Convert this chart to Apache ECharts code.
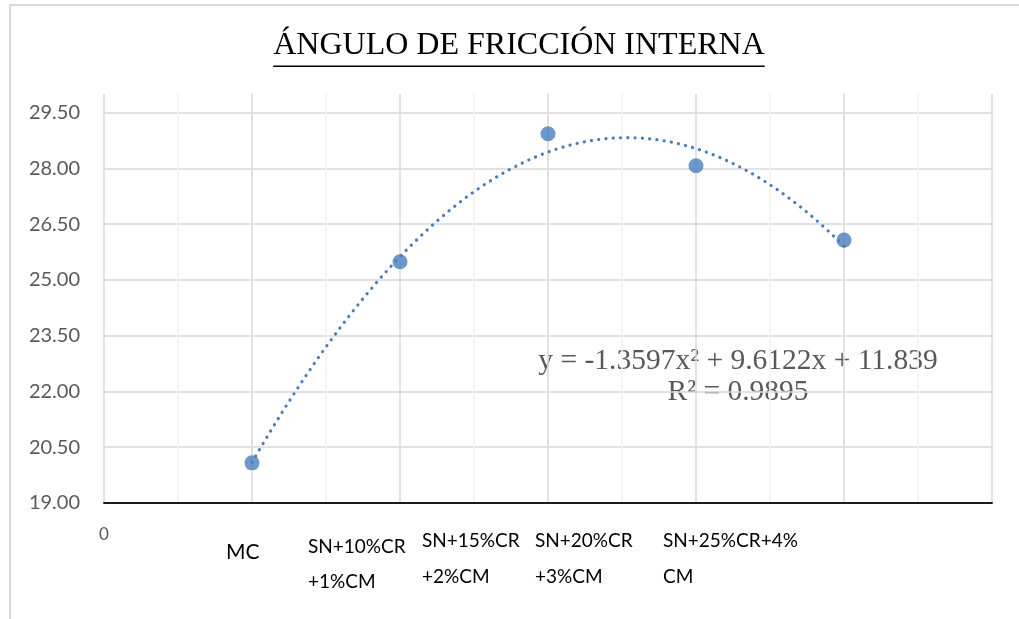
<!DOCTYPE html>
<html>
<head>
<meta charset="utf-8">
<script src="https://cdn.jsdelivr.net/npm/echarts@6/dist/echarts.min.js"></script>
<style>
  html, body { margin: 0; padding: 0; background: #ffffff; overflow: hidden; }
  #chart { width: 1019px; height: 619px; overflow: hidden; }
</style>
</head>
<body>
<div id="chart"></div>
<script>
// Mixes tested, in order along the x axis (x = 1 … 5)
const categories = ['MC', 'SN+10%CR\n+1%CM', 'SN+15%CR\n+2%CM', 'SN+20%CR\n+3%CM', 'SN+25%CR+4%\nCM'];
// Internal friction angle per mix
const frictionAngle = [20.08, 25.49, 28.93, 28.07, 26.07];
// Polynomial trend y = a·x² + b·x + c, as printed on the chart
const trendCoeffs = [-1.3597, 9.6122, 11.839];
const trendR2 = 0.9895;
// Y axis tick range
const yAxisMin = 19.0;
const yAxisMax = 30.0;
const yAxisStep = 1.5;

const titleText = 'ÁNGULO DE FRICCIÓN INTERNA';
const equationText = 'y = ' + trendCoeffs[0] + 'x² + ' + trendCoeffs[1] + 'x + ' + trendCoeffs[2];
const r2Text = 'R² = ' + trendR2;

const markerColor = '#4a7ebb';
const serif = '"Liberation Serif", "Times New Roman", serif';
const sans = 'Lato, "Open Sans", sans-serif';

// Rich-text layout for the category labels (box widths shift the left-aligned text)
const labelBoxWidth = [52, 184, 252, 322, 362];

const points = frictionAngle.map((v, i) => [i + 1, v]);

// Trend curve evaluated from the printed coefficients over the data span
const trendPoints = [];
for (let k = 0; k <= 80; k++) {
  const x = 1 + k * 0.05;
  trendPoints.push([x, trendCoeffs[0] * x * x + trendCoeffs[1] * x + trendCoeffs[2]]);
}

const rich = {
  zero: { fontSize: 17, color: '#595959', lineHeight: 24, fontFamily: sans }
};
categories.forEach((c, i) => {
  const lines = c.split('\n');
  lines.forEach((_, j) => {
    let lh = 36;
    if (i === 0) lh = 58;
    if (i === 1) lh = j === 0 ? 48 : 22;
    rich['c' + i + '_' + j] = {
      fontSize: i === 0 ? 21 : 19, color: '#000000', fontFamily: sans,
      align: 'left', width: labelBoxWidth[i], lineHeight: lh
    };
  });
});

function xLabel(v) {
  if (Math.abs(v) < 1e-9) return '{zero|0}';
  const idx = Math.round(v) - 1;
  if (Math.abs(v - Math.round(v)) > 1e-9 || idx < 0 || idx >= categories.length) return '';
  return categories[idx].split('\n').map((t, j) => '{c' + idx + '_' + j + '|' + t + '}').join('\n');
}

// Measure the title so the underline matches its width
const titleFont = '32px ' + serif;
const measureCtx = document.createElement('canvas').getContext('2d');
measureCtx.font = titleFont;
const titleWidth = measureCtx.measureText(titleText).width;
const titleLeft = 519 - titleWidth / 2;

const chart = echarts.init(document.getElementById('chart'), null, { renderer: 'canvas', width: 1019, height: 619 });
chart.setOption({
  backgroundColor: '#ffffff',
  animation: false,
  grid: { left: 104, right: 27, top: 94, bottom: 116, outerBoundsMode: 'none', containLabel: false },
  xAxis: {
    type: 'value', min: 0, max: 6, interval: 0.5,
    axisLine: { show: true, onZero: false, lineStyle: { color: '#1a1a1a', width: 2 } },
    axisTick: { show: false },
    splitLine: { show: true, lineStyle: { color: ['#d9d9d9', '#f2f2f2'], width: 1.5 } },
    axisLabel: { show: true, margin: 20, verticalAlign: 'top', formatter: xLabel, rich: rich }
  },
  yAxis: {
    type: 'value', min: yAxisMin, max: yAxisMax, interval: yAxisStep,
    axisLine: { show: false },
    axisTick: { show: false },
    splitLine: { show: true, showMaxLine: false, lineStyle: { color: '#d9d9d9', width: 1.5 } },
    axisLabel: {
      margin: 24, color: '#595959', fontSize: 20, fontFamily: sans,
      showMaxLabel: false,
      formatter: v => v.toFixed(2)
    }
  },
  series: [
    {
      type: 'line', data: trendPoints, showSymbol: false, smooth: false,
      lineStyle: { color: markerColor, width: 3.2, type: [0.1, 7.2], cap: 'round' },
      z: 2, silent: true
    },
    {
      type: 'scatter', data: points, symbol: 'circle', symbolSize: 15,
      itemStyle: { color: markerColor }, z: 3
    }
  ],
  graphic: [
    {
      type: 'rect', left: 9, top: 4, z: -10, silent: true,
      shape: { width: 1030, height: 640 },
      style: { fill: 'transparent', stroke: '#d9d9d9', lineWidth: 2 }
    },
    {
      type: 'text', x: titleLeft, y: 62, silent: true,
      style: { text: titleText, font: titleFont, fill: '#000000', textAlign: 'left', textVerticalAlign: 'bottom' }
    },
    {
      type: 'rect', x: titleLeft, y: 65.5, silent: true,
      shape: { width: titleWidth, height: 1.6 },
      style: { fill: '#000000' }
    },
    {
      type: 'text', x: 738, y: 361, silent: true,
      style: { text: equationText, font: '29.5px ' + serif, fill: '#595959', textAlign: 'center', textVerticalAlign: 'middle' }
    },
    {
      type: 'text', x: 738, y: 392, silent: true,
      style: { text: r2Text, font: '29.5px ' + serif, fill: '#595959', textAlign: 'center', textVerticalAlign: 'middle' }
    }
  ]
});
</script>
</body>
</html>
